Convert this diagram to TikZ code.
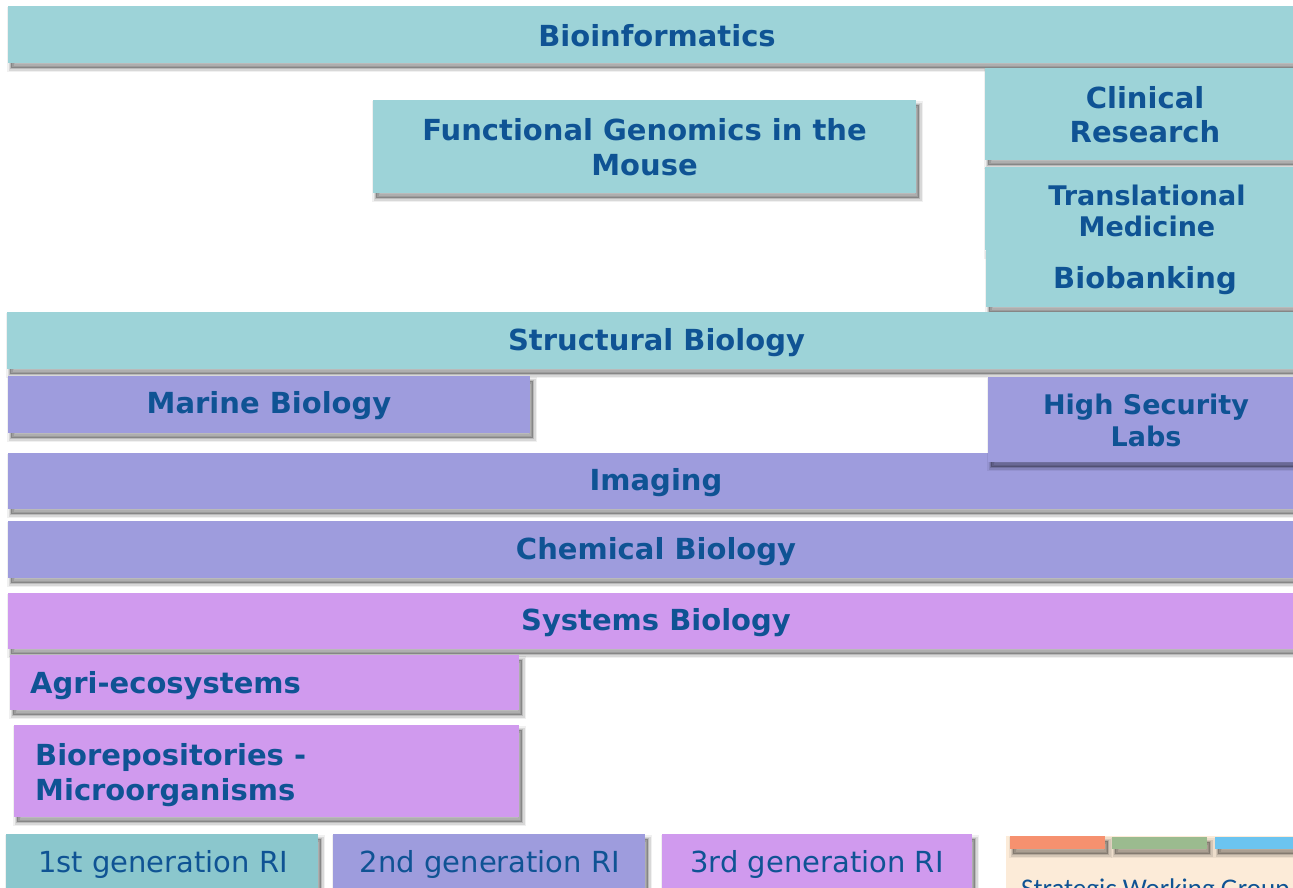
\documentclass[tikz,border=0pt]{standalone}
\usepackage{fontspec}
\setmainfont{DejaVu Sans}
\newfontfamily\calib{Carlito}
\usetikzlibrary{shadows}
\definecolor{teal1}{HTML}{9DD3D8}
\definecolor{teal2}{HTML}{8BC7CD}
\definecolor{lav}{HTML}{9E9CDD}
\definecolor{vio}{HTML}{D09AEE}
\definecolor{beige}{HTML}{FCEBD8}
\definecolor{txt}{HTML}{0F5394}
\definecolor{orng}{HTML}{F6916F}
\definecolor{grn}{HTML}{9BBB8F}
\definecolor{sky}{HTML}{6BC4F0}
\tikzset{
  softshadow/.style={
    drop shadow={shadow xshift=3pt, shadow yshift=-5pt, fill=black, draw=black, line width=8pt, fill opacity=0.06, draw opacity=0.06},
    drop shadow={shadow xshift=3pt, shadow yshift=-5pt, fill=black, draw=black, line width=5pt, fill opacity=0.1, draw opacity=0.1},
    drop shadow={shadow xshift=3pt, shadow yshift=-5pt, fill=black, draw=black, line width=2pt, fill opacity=0.14, draw opacity=0.14}},
  box/.style={rectangle, inner sep=0pt, outer sep=0pt, text=txt, align=center, softshadow},
  bt/.style={font=\fontsize{29}{35}\selectfont\bfseries},
  rt/.style={font=\fontsize{29}{34}\selectfont},
  lbl/.style={text=txt, inner sep=0pt, align=center},
}
\begin{document}
\begin{tikzpicture}[x=1pt,y=-1pt]
\useasboundingbox (0,0) rectangle (1293,887);
\clip (0,0) rectangle (1293,887);
% rows
\node[box,fill=teal1,minimum width=1298pt,minimum height=57pt] (bioinf) at (657,34.5) {};
\node[lbl,bt] (bioinft) at (657,36) {Bioinformatics};
\node[box,fill=teal1,minimum width=543pt,minimum height=93pt] (fgm) at (644.5,146.5) {};
\node[lbl,bt] (fgmt) at (644.5,147.5) {Functional Genomics in the\\Mouse};
\node[box,fill=teal1,minimum width=320pt,minimum height=92pt] (clin) at (1145,114) {};
\node[lbl,font=\fontsize{29}{34}\selectfont\bfseries] (clint) at (1145,115) {Clinical\\Research};
\node[box,fill=teal1,minimum width=320pt,minimum height=83pt] (trans) at (1145,208.5) {};
\node[lbl,font=\fontsize{27}{31}\selectfont\bfseries] (transt) at (1147,210.5) {Translational\\ Medicine};
\node[box,fill=teal1,minimum width=319pt,minimum height=57pt] (biob) at (1145.5,278.5) {};
\node[lbl,bt] (biobt) at (1145,280.5) {Biobanking};
\node[box,fill=teal1,minimum width=1299pt,minimum height=57pt] (struct) at (656.5,340.5) {};
\node[lbl,bt] (structt) at (656.5,342.5) {Structural Biology};
\node[box,fill=lav,minimum width=1298pt,minimum height=56pt] (imag) at (657,481) {};
\node[lbl,bt] (imagt) at (656,483) {Imaging};
\node[box,fill=lav,minimum width=522pt,minimum height=57pt] (marine) at (269,404.5) {};
\node[lbl,bt] (marinet) at (269,406) {Marine Biology};
\node[box,fill=lav,minimum width=317pt,minimum height=85pt] (hsl) at (1146.5,419.5) {};
\node[lbl,font=\fontsize{27}{32}\selectfont\bfseries] (hslt) at (1146,420.5) {High Security\\Labs};
\node[box,fill=lav,minimum width=1298pt,minimum height=57pt] (chem) at (657,549.5) {};
\node[lbl,bt] (chemt) at (656,551.5) {Chemical Biology};
\node[box,fill=vio,minimum width=1298pt,minimum height=56pt] (sys) at (657,621) {};
\node[lbl,bt] (syst) at (656,623) {Systems Biology};
\node[box,fill=vio,minimum width=509pt,minimum height=55pt] (agri) at (264.5,682.5) {};
\node[lbl,bt,anchor=west,align=left] (agrit) at (30,686) {Agri-ecosystems};
\node[box,fill=vio,minimum width=505pt,minimum height=92pt] (biorep) at (266.5,771) {};
\node[lbl,bt,anchor=west,align=left] (biorept) at (35,775.5) {Biorepositories -\\Microorganisms};
% legend
\node[box,fill=teal2,minimum width=312pt,minimum height=62pt,anchor=north west] (g1) at (6,834) {};
\node[lbl,rt] (g1t) at (163,864.5) {1st generation RI};
\node[box,fill=lav,minimum width=312pt,minimum height=62pt,anchor=north west] (g2) at (333,834) {};
\node[lbl,rt] (g2t) at (490,864.5) {2nd generation RI};
\node[box,fill=vio,minimum width=310pt,minimum height=62pt,anchor=north west] (g3) at (662,834) {};
\node[lbl,rt] (g3t) at (817,864.5) {3rd generation RI};
\node[rectangle,fill=beige,minimum width=320pt,minimum height=60pt,inner sep=0pt,anchor=north west] (swg) at (1006,836) {};
\node[box,fill=orng,minimum width=95pt,minimum height=13pt,anchor=north west] (s1) at (1010,836) {};
\node[box,fill=grn,minimum width=95pt,minimum height=12pt,anchor=north west] (s2) at (1112,837) {};
\node[box,fill=sky,minimum width=95pt,minimum height=12pt,anchor=north west] (s3) at (1215,837) {};
\node[anchor=base west,inner sep=0pt,text=txt,font=\calib\fontsize{27}{30}\selectfont] (swgt) at (1021,897) {Strategic Working Group};
\end{tikzpicture}
\end{document}
